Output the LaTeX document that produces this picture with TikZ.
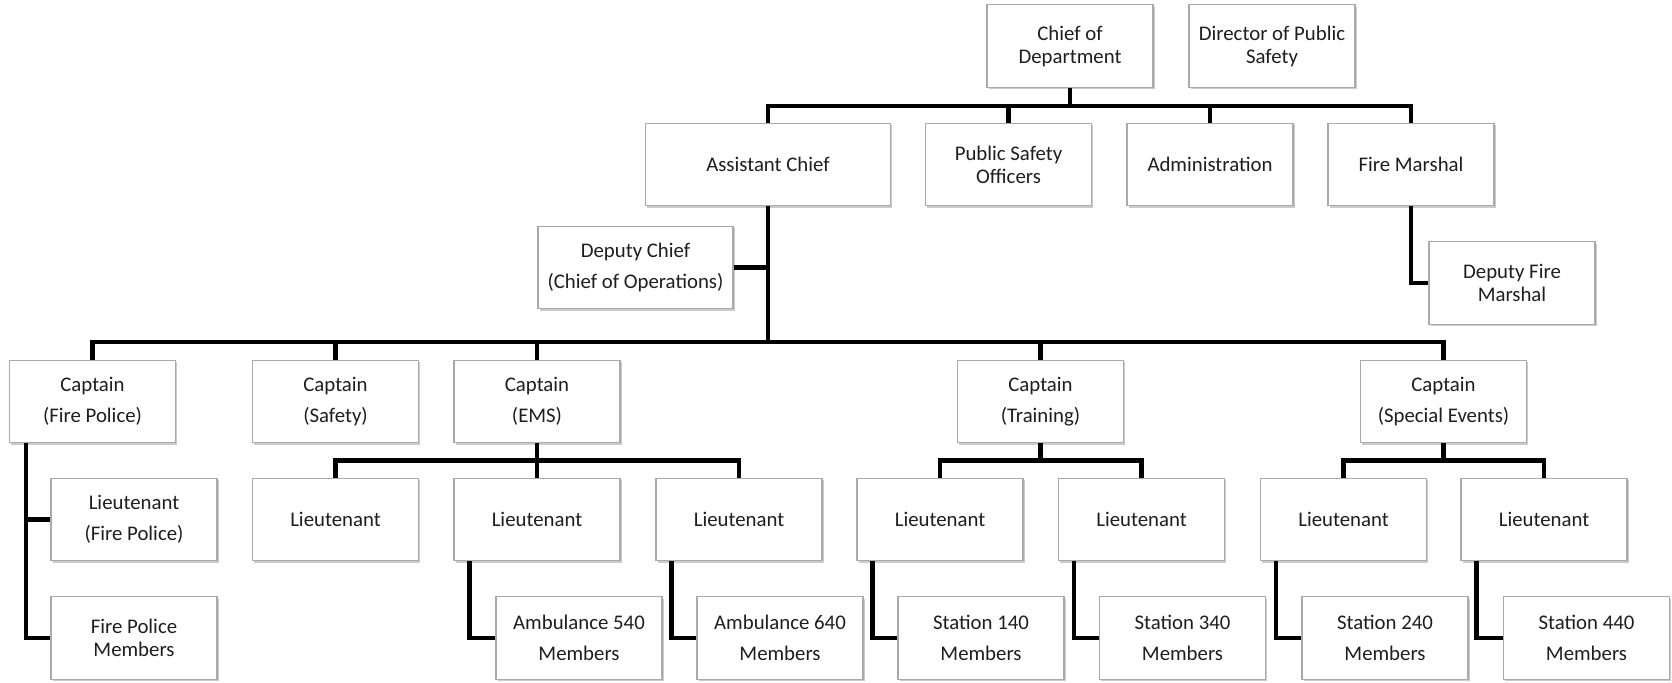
\documentclass[tikz,border=0pt]{standalone}
\usepackage{fontspec}
\setmainfont{Carlito}
\usetikzlibrary{shadows}
\definecolor{boxline}{RGB}{170,170,170}
\definecolor{boxtext}{RGB}{30,30,30}
\tikzset{every picture/.style={line width=0.75pt}}
\tikzset{
  orgbox/.style={draw=boxline, line width=0.6pt, fill=white, text=boxtext,
    minimum width=83pt, minimum height=41.25pt, inner sep=1pt, align=center,
    font=\fontsize{10.4}{11.5}\selectfont,
    drop shadow={shadow xshift=0.9pt, shadow yshift=-0.9pt, fill=black!45, opacity=0.45}},
  loose/.style={font=\fontsize{10.4}{15.5}\selectfont},
  conn/.style={draw=black, line width=2.2pt, line join=miter}
}

\begin{document}
\begin{tikzpicture}[x=0.5pt,y=-0.5pt]
        \useasboundingbox (0,0) rectangle (1672,683);
        % Top level
        \node [orgbox] (chief) at (1070,46) {Chief of\\Department};
        \node [orgbox] (director) at (1272,46) {Director of Public\\Safety};
        % Second level
        \node [orgbox, minimum width=122.5pt] (asst) at (768,164.5) {Assistant Chief};
        \node [orgbox] (pso) at (1008.5,164.5) {Public Safety\\Officers};
        \node [orgbox] (admin) at (1210,164.5) {Administration};
        \node [orgbox] (fmarshal) at (1411,164.5) {Fire Marshal};
        \node [orgbox, loose, minimum width=97.5pt] (deputy) at (635.5,267.5) {Deputy Chief\\(Chief of Operations)};
        \node [orgbox] (deputyfm) at (1512,283) {Deputy Fire\\Marshal};
        % Captains
        \node [orgbox, loose] (capfp) at (92.5,401.5) {Captain\\(Fire Police)};
        \node [orgbox, loose] (capsafety) at (335.5,401.5) {Captain\\(Safety)};
        \node [orgbox, loose] (capems) at (537,401.5) {Captain\\(EMS)};
        \node [orgbox, loose] (captraining) at (1040.5,401.5) {Captain\\(Training)};
        \node [orgbox, loose] (capevents) at (1443.5,401.5) {Captain\\(Special Events)};
        % Lieutenants
        \node [orgbox, loose] (ltfp) at (134,519.5) {Lieutenant\\(Fire Police)};
        \node [orgbox] (ltems1) at (335.5,519.5) {Lieutenant};
        \node [orgbox] (ltems2) at (537,519.5) {Lieutenant};
        \node [orgbox] (ltems3) at (739,519.5) {Lieutenant};
        \node [orgbox] (lttr1) at (940,519.5) {Lieutenant};
        \node [orgbox] (lttr2) at (1141.5,519.5) {Lieutenant};
        \node [orgbox] (ltev1) at (1343.5,519.5) {Lieutenant};
        \node [orgbox] (ltev2) at (1544,519.5) {Lieutenant};
        % Members
        \node [orgbox] (fpmembers) at (134,638) {Fire Police\\Members};
        \node [orgbox, loose] (amb540) at (579,638) {Ambulance 540\\Members};
        \node [orgbox, loose] (amb640) at (780,638) {Ambulance 640\\Members};
        \node [orgbox, loose] (st140) at (981,638) {Station 140\\Members};
        \node [orgbox, loose] (st340) at (1182.5,638) {Station 340\\Members};
        \node [orgbox, loose] (st240) at (1385,638) {Station 240\\Members};
        \node [orgbox, loose] (st440) at (1586.5,638) {Station 440\\Members};
        % Bus levels
        \coordinate (busA) at (0,106);
        \coordinate (busB) at (0,342);
        \coordinate (busC) at (0,460.5);
        %Straight Lines
        \draw [conn] (chief.south) -- (chief.south |- busA);
        \draw [conn] (asst.north) -- (asst.north |- busA) -- (fmarshal.north |- busA) -- (fmarshal.north);
        \draw [conn] (pso.north) -- (pso.north |- busA);
        \draw [conn] (admin.north) -- (admin.north |- busA);
        \draw [conn] (fmarshal.south) |- (deputyfm.west);
        \draw [conn] (asst.south) -- (asst.south |- busB);
        \draw [conn] (deputy.east) -- (deputy.east -| asst.south);
        \draw [conn] (capfp.north) -- (capfp.north |- busB) -- (capevents.north |- busB) -- (capevents.north);
        \foreach \cap in {capsafety, capems, captraining}
            \draw [conn] (\cap.north) -- (\cap.north |- busB);
        % Fire police column
        \coordinate (fpspine) at ([xshift=8.5pt]capfp.south west);
        \draw [conn] (fpspine) |- (fpmembers.west);
        \draw [conn] (ltfp.west) -- (ltfp.west -| fpspine);
        % Lieutenant buses
        \draw [conn] (ltems1.north) -- (ltems1.north |- busC) -- (ltems3.north |- busC) -- (ltems3.north);
        \draw [conn] (capems.south) -- (ltems2.north);
        \draw [conn] (lttr1.north) -- (lttr1.north |- busC) -- (lttr2.north |- busC) -- (lttr2.north);
        \draw [conn] (captraining.south) -- (captraining.south |- busC);
        \draw [conn] (ltev1.north) -- (ltev1.north |- busC) -- (ltev2.north |- busC) -- (ltev2.north);
        \draw [conn] (capevents.south) -- (capevents.south |- busC);
        % Members
        \foreach \lt/\mem in {ltems2/amb540, ltems3/amb640, lttr1/st140, lttr2/st340, ltev1/st240, ltev2/st440}
            \draw [conn] ([xshift=8pt]\lt.south west) |- (\mem.west);
    \end{tikzpicture}
\end{document}
